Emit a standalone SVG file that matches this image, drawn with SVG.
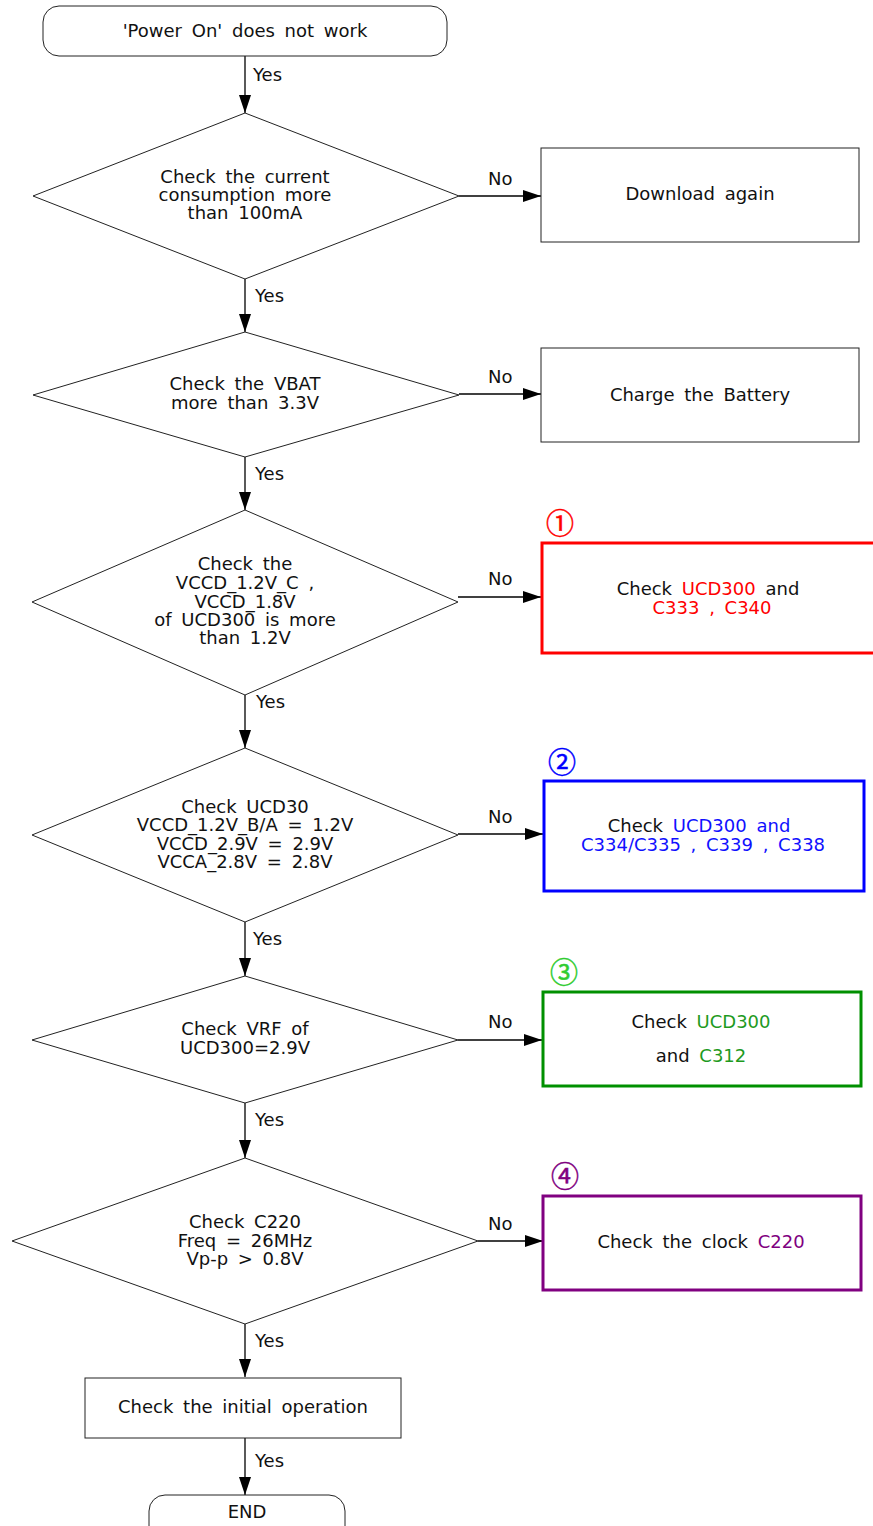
<svg xmlns="http://www.w3.org/2000/svg" width="873" height="1526" viewBox="0 0 873 1526">
<defs>
<marker id="ah" markerUnits="userSpaceOnUse" markerWidth="18" markerHeight="12" refX="18" refY="6" orient="auto">
<path d="M0,0 L18,6 L0,12 z" fill="#000"/>
</marker>
<style>
text{font-family:"DejaVu Sans","Verdana",sans-serif;font-size:18px;fill:#111;word-spacing:4px}
.m{text-anchor:middle}
.sh{fill:#fff;stroke:#222;stroke-width:1}
.conn line{stroke:#000;stroke-width:1.3;marker-end:url(#ah)}
text.num{font-family:"Noto Sans CJK JP","DejaVu Sans",sans-serif;font-size:28px;text-anchor:middle;stroke-width:0.5}
.red{fill:#ff0000}.blue{fill:#1010ff}.green{fill:#1e9a1e}.purple{fill:#800080}
text.n1{fill:#ff0000;stroke:#ff0000}
text.n2{fill:#0000ff;stroke:#0000ff}
text.n3{fill:#30cc30;stroke:#30cc30}
text.n4{fill:#800080;stroke:#800080}
</style>
</defs>
<rect width="873" height="1526" fill="#fff"/>

<g id="connectors" class="conn">
<line x1="245" y1="56" x2="245" y2="113"/>
<line x1="459" y1="196" x2="541" y2="196"/>
<line x1="245" y1="279" x2="245" y2="332"/>
<line x1="459" y1="394" x2="541" y2="394"/>
<line x1="245" y1="457" x2="245" y2="510"/>
<line x1="458" y1="597" x2="541" y2="597"/>
<line x1="245" y1="695" x2="245" y2="748"/>
<line x1="458" y1="834" x2="543" y2="834"/>
<line x1="245" y1="922" x2="245" y2="976"/>
<line x1="458" y1="1040" x2="542" y2="1040"/>
<line x1="245" y1="1103" x2="245" y2="1158"/>
<line x1="478" y1="1241" x2="543" y2="1241"/>
<line x1="245" y1="1324" x2="245" y2="1377"/>
<line x1="245" y1="1438" x2="245" y2="1495"/>
</g>

<g id="labels">
<text x="253" y="81">Yes</text>
<text x="255" y="302">Yes</text>
<text x="255" y="480">Yes</text>
<text x="256" y="708">Yes</text>
<text x="253" y="945">Yes</text>
<text x="255" y="1126">Yes</text>
<text x="255" y="1347">Yes</text>
<text x="255" y="1467">Yes</text>
<text x="488" y="185">No</text>
<text x="488" y="383">No</text>
<text x="488" y="585">No</text>
<text x="488" y="823">No</text>
<text x="488" y="1028">No</text>
<text x="488" y="1230">No</text>
</g>

<g id="start">
<rect class="sh" x="43" y="6" width="404" height="50" rx="16"/>
<text class="m" x="245" y="37">'Power On' does not work</text>
</g>

<g id="d1">
<polygon class="sh" points="245,113 459,196 245,279 33,196"/>
<text class="m" x="245" y="183">Check the current</text>
<text class="m" x="245" y="201">consumption more</text>
<text class="m" x="245" y="219">than 100mA</text>
</g>

<g id="b1">
<rect class="sh" x="541" y="148" width="318" height="94"/>
<text class="m" x="700" y="200">Download again</text>
</g>

<g id="d2">
<polygon class="sh" points="245,332 459,395 245,457 33,395"/>
<text class="m" x="245" y="390">Check the VBAT</text>
<text class="m" x="245" y="409">more than 3.3V</text>
</g>

<g id="b2">
<rect class="sh" x="541" y="348" width="318" height="94"/>
<text class="m" x="700" y="401">Charge the Battery</text>
</g>

<g id="d3">
<polygon class="sh" points="245,510 458,602 245,695 32,602"/>
<text class="m" x="245" y="570">Check the</text>
<text class="m" x="245" y="589">VCCD_1.2V_C ,</text>
<text class="m" x="245" y="608">VCCD_1.8V</text>
<text class="m" x="245" y="626">of UCD300 is more</text>
<text class="m" x="245" y="644">than 1.2V</text>
</g>

<g id="b3">
<rect x="542" y="543" width="340" height="110" fill="#fff" stroke="#ff0000" stroke-width="3"/>
<text class="num n1" x="560" y="534">①</text>
<text class="m" x="708" y="595">Check <tspan class="red">UCD300</tspan> and</text>
<text class="m red" x="712" y="614">C333 , C340</text>
</g>

<g id="d4">
<polygon class="sh" points="245,748 458,835 245,922 32,835"/>
<text class="m" x="245" y="813">Check UCD30</text>
<text class="m" x="245" y="831">VCCD_1.2V_B/A = 1.2V</text>
<text class="m" x="245" y="850">VCCD_2.9V = 2.9V</text>
<text class="m" x="245" y="868">VCCA_2.8V = 2.8V</text>
</g>

<g id="b4">
<rect x="544" y="781" width="320" height="110" fill="#fff" stroke="#0000ff" stroke-width="3"/>
<text class="num n2" x="562" y="773">②</text>
<text class="m" x="699" y="832">Check <tspan class="blue">UCD300 and</tspan></text>
<text class="m blue" x="703" y="851">C334/C335 , C339 , C338</text>
</g>

<g id="d5">
<polygon class="sh" points="245,976 458,1040 245,1103 32,1040"/>
<text class="m" x="245" y="1035">Check VRF of</text>
<text class="m" x="245" y="1054">UCD300=2.9V</text>
</g>

<g id="b5">
<rect x="543" y="992" width="318" height="94" fill="#fff" stroke="#009000" stroke-width="3"/>
<text class="num n3" x="564" y="983">③</text>
<text class="m" x="701" y="1028">Check <tspan class="green">UCD300</tspan></text>
<text class="m" x="701" y="1062">and <tspan class="green">C312</tspan></text>
</g>

<g id="d6">
<polygon class="sh" points="245,1158 478,1241 245,1324 12,1241"/>
<text class="m" x="245" y="1228">Check C220</text>
<text class="m" x="245" y="1247">Freq = 26MHz</text>
<text class="m" x="245" y="1265">Vp-p &gt; 0.8V</text>
</g>

<g id="b6">
<rect x="543" y="1196" width="318" height="94" fill="#fff" stroke="#800080" stroke-width="3"/>
<text class="num n4" x="565" y="1187">④</text>
<text class="m" x="701" y="1248">Check the clock <tspan class="purple">C220</tspan></text>
</g>

<g id="b7">
<rect class="sh" x="85" y="1378" width="316" height="60"/>
<text class="m" x="243" y="1413">Check the initial operation</text>
</g>

<g id="end">
<rect class="sh" x="149" y="1495" width="196" height="50" rx="16"/>
<text class="m" x="247" y="1518">END</text>
</g>
</svg>
